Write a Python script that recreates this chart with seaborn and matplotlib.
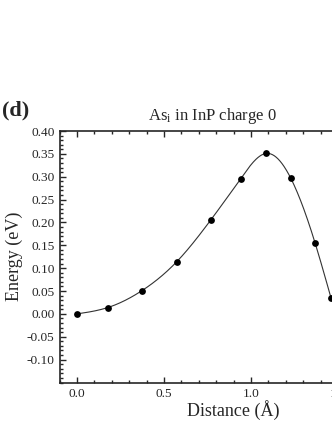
import numpy as np
import matplotlib
matplotlib.use('Agg')
import matplotlib.pyplot as plt
import seaborn as sns
import pandas as pd
from matplotlib.ticker import MultipleLocator, FixedLocator

# values
distance = [0.0, 0.178, 0.374, 0.573, 0.768, 0.941, 1.088, 1.228, 1.368, 1.460]
energy = [0.000, 0.014, 0.051, 0.114, 0.205, 0.296, 0.351, 0.297, 0.155, 0.034]
x_ticks = [0.0, 0.5, 1.0, 1.5]
y_ticks = [-0.10, -0.05, 0.00, 0.05, 0.10, 0.15, 0.20, 0.25, 0.30, 0.35, 0.40]


def smooth_line(x, y, n=400):
    # natural cubic spline, only used to draw the connecting curve
    x = np.asarray(x, float)
    y = np.asarray(y, float)
    h = np.diff(x)
    m = len(x)
    A = np.zeros((m, m))
    b = np.zeros(m)
    A[0, 0] = A[-1, -1] = 1
    for i in range(1, m - 1):
        A[i, i - 1] = h[i - 1]
        A[i, i] = 2 * (h[i - 1] + h[i])
        A[i, i + 1] = h[i]
        b[i] = 6 * ((y[i + 1] - y[i]) / h[i] - (y[i] - y[i - 1]) / h[i - 1])
    M = np.linalg.solve(A, b)
    xs = np.linspace(x[0], x[-1], n)
    idx = np.clip(np.searchsorted(x, xs) - 1, 0, m - 2)
    x0, x1 = x[idx], x[idx + 1]
    hh = x1 - x0
    t0, t1 = x1 - xs, xs - x0
    ys = (M[idx] * t0 ** 3 + M[idx + 1] * t1 ** 3) / (6 * hh) \
        + (y[idx] / hh - M[idx] * hh / 6) * t0 \
        + (y[idx + 1] / hh - M[idx + 1] * hh / 6) * t1
    return xs, ys


def main() -> None:
    sns.set_style('ticks')
    plt.rcParams['font.family'] = ['Liberation Serif', 'DejaVu Serif']
    plt.rcParams['mathtext.fontset'] = 'custom'
    plt.rcParams['mathtext.rm'] = 'Liberation Serif'
    plt.rcParams['mathtext.it'] = 'Liberation Serif:italic'
    plt.rcParams['axes.unicode_minus'] = False

    df = pd.DataFrame({'distance': distance, 'energy': energy})

    f = plt.figure(figsize=(3.32, 4.30), dpi=100)
    W, H = 332, 430
    left, right, top, bottom = 59.5, 355.5, 131, 382.5
    ax = f.add_axes([left / W, 1 - bottom / H, (right - left) / W, (bottom - top) / H])

    xs, ys = smooth_line(df['distance'], df['energy'])
    ax.plot(xs, ys, color='#333333', lw=0.8, zorder=2)
    sns.scatterplot(data=df, x='distance', y='energy', color='black', s=24,
                    edgecolor='black', linewidth=0, ax=ax, zorder=3)

    ax.set_xlim(-0.1, 1.6)
    ax.set_ylim(-0.15, 0.40)
    ax.xaxis.set_major_locator(FixedLocator(x_ticks))
    ax.xaxis.set_minor_locator(MultipleLocator(0.1))
    ax.yaxis.set_major_locator(FixedLocator(y_ticks))
    ax.yaxis.set_minor_locator(MultipleLocator(0.01))
    ax.set_xticklabels([f'{v:.1f}' for v in x_ticks])
    ax.set_yticklabels([f'{v:.2f}'.replace('-0.00', '0.00') for v in y_ticks])
    ax.tick_params(which='both', direction='in', top=True, right=True, width=1.0)
    ax.tick_params(which='major', length=4, labelsize=9.6, pad=3.5)
    ax.tick_params(axis='x', which='major', pad=4)
    ax.tick_params(which='minor', length=2)
    for s in ax.spines.values():
        s.set_linewidth(1.2)

    ax.set_xlabel('Distance (Å)', fontsize=13)
    ax.set_ylabel('Energy (eV)', fontsize=13)
    ax.xaxis.set_label_coords((233 - left) / (right - left), (bottom - 410.5) / (bottom - top))
    ax.xaxis.label.set_va('center')
    ax.yaxis.set_label_coords((14 - left) / (right - left), 0.5)
    ax.yaxis.label.set_va('center')

    f.text(212 / W, 1 - 116 / H, r'As$_\mathrm{i}$ in InP charge 0', ha='center', va='center', fontsize=12)
    f.text(2 / W, 1 - 110 / H, '(d)', ha='left', va='center', fontsize=16, fontweight='bold')

    plt.savefig('out.png', dpi=100)


if __name__ == '__main__':
    main()
